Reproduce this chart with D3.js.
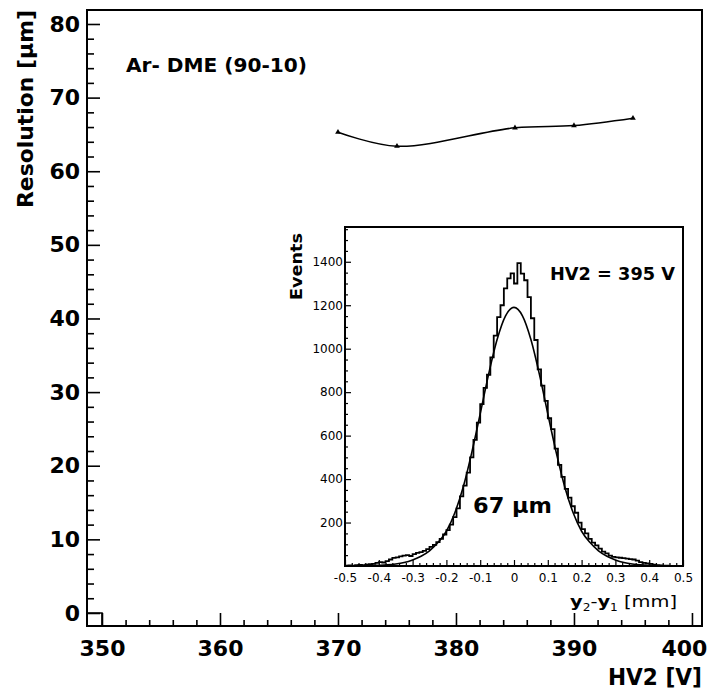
<!DOCTYPE html>
<html>
<head>
<meta charset="utf-8">
<script src="https://cdn.jsdelivr.net/npm/d3@7"></script>
<style>
  body { margin: 0; background: #fff; }
  svg { display: block; }
</style>
</head>
<body>
<svg width="712" height="693"></svg>
<script>
// main graph: resolution vs HV2
var hvValues = [370, 375, 385, 390, 395];
var resValues = [65.3, 63.4, 65.9, 66.2, 67.2];
var mainXTicks = [350, 360, 370, 380, 390, 400];
var mainYTicks = [0, 10, 20, 30, 40, 50, 60, 70, 80];

// inset: y2-y1 distribution at HV2 = 395 V, bins of 0.01 mm from -0.5 to 0.5
var binEdges = d3.range(-0.5, 0.5, 0.01);
var binCounts = [
  2, 3, 2, 4, 5, 4, 6, 8, 10, 14,
  18, 16, 22, 30, 37, 40, 44, 48, 50, 46,
  55, 60, 64, 70, 78, 88, 97, 110, 125, 145,
  165, 190, 225, 265, 320, 370, 430, 500, 580, 660,
  745, 820, 880, 960, 1060, 1145, 1200, 1278, 1324, 1347,
  1300, 1394, 1345, 1315, 1237, 1140, 1040, 905, 830, 760,
  680, 630, 540, 465, 410, 355, 315, 275, 245, 200,
  170, 150, 125, 108, 95, 80, 66, 58, 48, 42,
  40, 38, 36, 34, 32, 30, 25, 18, 14, 12,
  10, 6, 4, 3, 2, 2, 1, 1, 0, 1
];
// gaussian fit curve
var fitX = [-0.5, -0.45, -0.4, -0.375, -0.35, -0.325, -0.3, -0.275, -0.25, -0.225, -0.2, -0.175, -0.15, -0.125, -0.1, -0.075, -0.05, -0.025, 0,
            0.025, 0.05, 0.075, 0.1, 0.125, 0.15, 0.175, 0.2, 0.225, 0.25, 0.275, 0.3, 0.325, 0.35, 0.375, 0.4, 0.45, 0.5];
var fitY = [0, 1, 3, 5, 9, 16, 28, 45, 70, 108, 160, 245, 365, 522, 700, 883, 1042, 1151, 1190,
            1151, 1042, 883, 700, 522, 365, 245, 160, 108, 70, 45, 28, 16, 9, 5, 3, 1, 0];
var insetXTicks = [-0.5, -0.4, -0.3, -0.2, -0.1, 0, 0.1, 0.2, 0.3, 0.4, 0.5];
var insetYTicks = [200, 400, 600, 800, 1000, 1200, 1400];

var svg = d3.select("svg");
var boldFont = "'DejaVu Sans', sans-serif";

// ---- main frame
var x = d3.scaleLinear().domain([348.73, 400.85]).range([87, 702]);
var y = d3.scaleLinear().domain([-1.77, 81.9]).range([626, 10]);

function minors(lo, hi, step, majors) {
  return d3.range(lo, hi + step / 2, step).filter(function(v) {
    return !majors.some(function(m) { return Math.abs(m - v) < 1e-6; });
  });
}

var gx = svg.append("g").attr("transform", "translate(0,626)");
gx.call(d3.axisBottom(x).tickValues(mainXTicks).tickSizeInner(-13).tickSizeOuter(0).tickPadding(14));
gx.append("g").call(d3.axisBottom(x).tickValues(minors(350, 400, 2, mainXTicks)).tickSizeInner(-6).tickSizeOuter(0).tickFormat(""));
// last label pulled in so it stays on the page
gx.selectAll(".tick text").filter(function(d) { return d === 400; }).attr("dx", -8);

var gy = svg.append("g").attr("transform", "translate(87,0)");
gy.call(d3.axisLeft(y).tickValues(mainYTicks).tickSizeInner(-13).tickSizeOuter(0).tickPadding(7));
gy.append("g").call(d3.axisLeft(y).tickValues(minors(0, 80, 2, mainYTicks)).tickSizeInner(-7).tickSizeOuter(0).tickFormat(""));

svg.selectAll(".domain").remove();
svg.selectAll(".tick line").attr("stroke", "#000").attr("stroke-width", 1.6);
[gx, gy].forEach(function(g) {
  g.attr("font-family", boldFont).attr("font-size", 22).attr("font-weight", "bold");
  g.selectAll("text").attr("fill", "#000");
});

svg.append("rect")
  .attr("x", 87).attr("y", 10).attr("width", 615).attr("height", 616)
  .attr("fill", "none").attr("stroke", "#000").attr("stroke-width", 2);

// little step at the zero line
svg.append("path")
  .attr("d", "M" + x(348.73) + "," + y(0) + "H" + x(350) + "V" + y(-1.77))
  .attr("fill", "none").attr("stroke", "#000").attr("stroke-width", 1.6);

// smooth curve through the points
var line = d3.line()
  .x(function(d, i) { return x(hvValues[i]); })
  .y(function(d) { return y(d); })
  .curve(d3.curveCatmullRom);

svg.append("path").datum(resValues)
  .attr("d", line).attr("fill", "none").attr("stroke", "#000").attr("stroke-width", 1.5);

svg.selectAll(".pt").data(resValues).enter().append("path")
  .attr("class", "pt")
  .attr("transform", function(d, i) { return "translate(" + x(hvValues[i]) + "," + y(d) + ")"; })
  .attr("d", d3.symbol().type(d3.symbolTriangle).size(14))
  .attr("fill", "#000");

// labels
svg.append("text")
  .attr("transform", "translate(33,10) rotate(-90)")
  .attr("text-anchor", "end")
  .attr("font-family", boldFont).attr("font-weight", "bold").attr("font-size", 22)
  .attr("textLength", 198).attr("lengthAdjust", "spacingAndGlyphs")
  .text("Resolution [µm]");

svg.append("text")
  .attr("x", 702).attr("y", 685)
  .attr("text-anchor", "end")
  .attr("font-family", boldFont).attr("font-weight", "bold").attr("font-size", 23)
  .attr("textLength", 94).attr("lengthAdjust", "spacingAndGlyphs")
  .text("HV2 [V]");

svg.append("text")
  .attr("x", 126).attr("y", 72)
  .attr("font-family", boldFont).attr("font-weight", "bold").attr("font-size", 20)
  .attr("textLength", 181).attr("lengthAdjust", "spacingAndGlyphs")
  .text("Ar- DME (90-10)");

// ---- inset
var ix = d3.scaleLinear().domain([-0.5, 0.5]).range([345, 683]);
var iy = d3.scaleLinear().domain([0, 1560]).range([566, 227]);

svg.append("rect")
  .attr("x", 345).attr("y", 227).attr("width", 338).attr("height", 339)
  .attr("fill", "#fff");

var histPath = "M" + ix(-0.5) + "," + iy(0);
binEdges.forEach(function(e, i) {
  histPath += "L" + ix(e) + "," + iy(binCounts[i]) + "L" + ix(e + 0.01) + "," + iy(binCounts[i]);
});
histPath += "L" + ix(0.5) + "," + iy(0);

svg.append("path").attr("d", histPath)
  .attr("fill", "none").attr("stroke", "#000").attr("stroke-width", 1.8);

var fitLine = d3.line()
  .x(function(d, i) { return ix(fitX[i]); })
  .y(function(d) { return iy(d); })
  .curve(d3.curveMonotoneX);
svg.append("path").datum(fitY)
  .attr("d", fitLine).attr("fill", "none").attr("stroke", "#000").attr("stroke-width", 1.6);

var igx = svg.append("g").attr("transform", "translate(0,566)");
igx.call(d3.axisBottom(ix).tickValues(insetXTicks).tickSizeInner(-6).tickSizeOuter(0).tickPadding(7)
  .tickFormat(function(d) { return d === 0 ? "0" : d.toFixed(1); }));
igx.append("g").call(d3.axisBottom(ix).tickValues(minors(-0.5, 0.5, 0.02, insetXTicks)).tickSizeInner(-3).tickSizeOuter(0).tickFormat(""));

var igy = svg.append("g").attr("transform", "translate(345,0)");
igy.call(d3.axisLeft(iy).tickValues(insetYTicks).tickSizeInner(-6).tickSizeOuter(0).tickPadding(2).tickFormat(d3.format("d")));
igy.append("g").call(d3.axisLeft(iy).tickValues(minors(50, 1550, 50, insetYTicks)).tickSizeInner(-3).tickSizeOuter(0).tickFormat(""));

[igx, igy].forEach(function(g) {
  g.selectAll(".domain").remove();
  g.selectAll(".tick line").attr("stroke", "#000").attr("stroke-width", 1.2);
  g.attr("font-family", "'DejaVu Sans', sans-serif").attr("font-size", 12);
  g.selectAll("text").attr("fill", "#000");
});

svg.append("rect")
  .attr("x", 345).attr("y", 227).attr("width", 338).attr("height", 339)
  .attr("fill", "none").attr("stroke", "#000").attr("stroke-width", 2);

svg.append("text")
  .attr("transform", "translate(302,233) rotate(-90)")
  .attr("text-anchor", "end")
  .attr("font-family", boldFont).attr("font-weight", "bold").attr("font-size", 16)
  .attr("textLength", 67).attr("lengthAdjust", "spacingAndGlyphs")
  .text("Events");

svg.append("text")
  .attr("x", 550).attr("y", 280)
  .attr("font-family", boldFont).attr("font-weight", "bold").attr("font-size", 17)
  .attr("textLength", 125).attr("lengthAdjust", "spacingAndGlyphs")
  .text("HV2 = 395 V");

svg.append("text")
  .attr("x", 473).attr("y", 513)
  .attr("font-family", boldFont).attr("font-weight", "bold").attr("font-size", 22)
  .attr("textLength", 79).attr("lengthAdjust", "spacingAndGlyphs")
  .text("67 µm");

var xl = svg.append("text")
  .attr("x", 570).attr("y", 607)
  .attr("font-family", boldFont).attr("font-size", 16)
  .attr("textLength", 107).attr("lengthAdjust", "spacingAndGlyphs");
xl.append("tspan").attr("font-weight", "bold").text("y");
xl.append("tspan").attr("font-size", 10).attr("dy", 4).text("2");
xl.append("tspan").attr("dy", -4).text("-");
xl.append("tspan").attr("font-weight", "bold").text("y");
xl.append("tspan").attr("font-size", 10).attr("dy", 4).text("1");
xl.append("tspan").attr("dy", -4).text(" [mm]");
</script>
</body>
</html>
